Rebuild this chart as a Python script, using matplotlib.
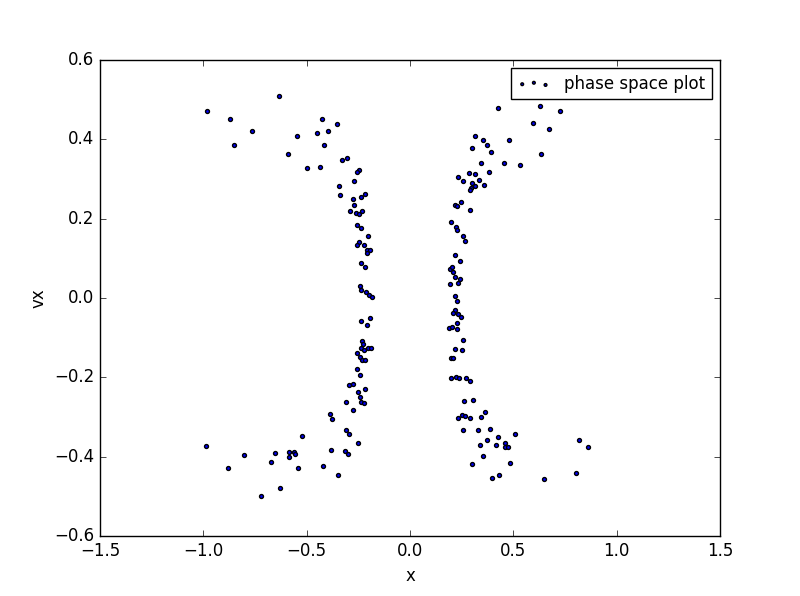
import numpy as np
import matplotlib
matplotlib.use('Agg')
import matplotlib.pyplot as plt

plt.style.use('classic')

# left branch
x_left = [-0.634, -0.981, -0.871, -0.763, -0.853, -0.427, -0.352, -0.451, -0.398, -0.548,
          -0.418, -0.592, -0.330, -0.305, -0.500, -0.435, -0.245, -0.255, -0.272, -0.342,
          -0.339, -0.216, -0.236, -0.274, -0.269, -0.290, -0.263, -0.245, -0.234, -0.255,
          -0.236, -0.202, -0.245, -0.255, -0.223, -0.210, -0.192, -0.208, -0.239, -0.216,
          -0.242, -0.236, -0.213, -0.198, -0.182, -0.194, -0.236, -0.210, -0.231, -0.227,
          -0.237, -0.205, -0.190, -0.224, -0.255, -0.242, -0.231, -0.218, -0.255, -0.240,
          -0.294, -0.274, -0.216, -0.250, -0.240, -0.237, -0.221, -0.308, -0.274, -0.386,
          -0.376, -0.308, -0.294, -0.250, -0.521, -0.989, -0.805, -0.655, -0.587, -0.560,
          -0.555, -0.587, -0.674, -0.381, -0.316, -0.298, -0.882, -0.543, -0.423, -0.347,
          -0.631, -0.723]
vx_left = [0.509, 0.471, 0.451, 0.421, 0.385, 0.451, 0.438, 0.416, 0.421, 0.408,
           0.385, 0.363, 0.348, 0.353, 0.328, 0.330, 0.323, 0.317, 0.295, 0.281,
           0.260, 0.262, 0.253, 0.250, 0.234, 0.218, 0.215, 0.212, 0.220, 0.184,
           0.177, 0.156, 0.142, 0.134, 0.134, 0.122, 0.122, 0.114, 0.087, 0.078,
           0.031, 0.021, 0.014, 0.008, 0.003, -0.050, -0.057, -0.067, -0.109, -0.117,
           -0.125, -0.125, -0.125, -0.130, -0.138, -0.148, -0.155, -0.155, -0.178, -0.193,
           -0.218, -0.216, -0.228, -0.236, -0.250, -0.261, -0.264, -0.261, -0.281, -0.291,
           -0.305, -0.332, -0.342, -0.364, -0.347, -0.372, -0.395, -0.390, -0.387, -0.387,
           -0.392, -0.400, -0.412, -0.382, -0.384, -0.392, -0.427, -0.427, -0.422, -0.445,
           -0.477, -0.498]

# right branch
x_right = [0.426, 0.631, 0.726, 0.595, 0.671, 0.316, 0.355, 0.481, 0.302, 0.373,
           0.393, 0.632, 0.344, 0.456, 0.531, 0.381, 0.287, 0.316, 0.234, 0.258,
           0.335, 0.302, 0.316, 0.360, 0.297, 0.292, 0.248, 0.219, 0.229, 0.292,
           0.200, 0.224, 0.229, 0.258, 0.265, 0.219, 0.243, 0.194, 0.205, 0.210,
           0.219, 0.243, 0.234, 0.195, 0.219, 0.229, 0.219, 0.210, 0.231, 0.245,
           0.226, 0.190, 0.205, 0.229, 0.255, 0.219, 0.253, 0.200, 0.210, 0.200,
           0.224, 0.239, 0.272, 0.292, 0.263, 0.306, 0.364, 0.253, 0.268, 0.234,
           0.292, 0.345, 0.258, 0.327, 0.389, 0.427, 0.508, 0.371, 0.340, 0.418,
           0.460, 0.460, 0.474, 0.352, 0.302, 0.484, 0.432, 0.398, 0.647, 0.816,
           0.860, 0.805]
vx_right = [0.478, 0.483, 0.471, 0.441, 0.426, 0.408, 0.398, 0.398, 0.378, 0.385,
            0.368, 0.363, 0.340, 0.340, 0.335, 0.317, 0.315, 0.312, 0.305, 0.295,
            0.297, 0.290, 0.282, 0.285, 0.277, 0.272, 0.242, 0.234, 0.231, 0.222,
            0.192, 0.179, 0.172, 0.156, 0.144, 0.109, 0.094, 0.073, 0.077, 0.066,
            0.053, 0.047, 0.038, 0.036, 0.006, -0.007, -0.031, -0.037, -0.040, -0.047,
            -0.062, -0.075, -0.072, -0.078, -0.105, -0.128, -0.130, -0.150, -0.150, -0.201,
            -0.198, -0.201, -0.201, -0.208, -0.259, -0.256, -0.286, -0.294, -0.296, -0.303,
            -0.301, -0.299, -0.332, -0.332, -0.329, -0.349, -0.342, -0.357, -0.369, -0.369,
            -0.364, -0.374, -0.374, -0.397, -0.417, -0.415, -0.445, -0.452, -0.455, -0.357,
            -0.374, -0.440]

x = np.array(x_left + x_right)
vx = np.array(vx_left + vx_right)

fig = plt.figure(figsize=(8, 5.96), dpi=100)
ax = fig.add_subplot(111)
ax.scatter(x, vx, s=8, c='b', edgecolors='k', label='phase space plot')

ax.set_xlim(-1.5, 1.5)
ax.set_ylim(-0.6, 0.6)
ax.set_xlabel('x')
ax.set_ylabel('vx')
ax.legend(loc='upper right', fontsize=12, markerscale=0.7)

plt.savefig('out.png', dpi=100)
